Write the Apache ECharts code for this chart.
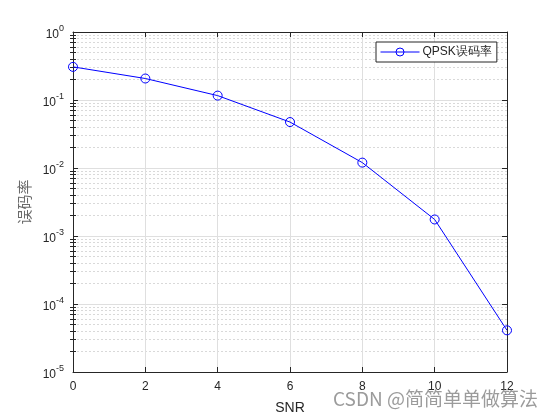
<!DOCTYPE html>
<html>
<head>
<meta charset="utf-8">
<script src="https://cdn.jsdelivr.net/npm/echarts@6/dist/echarts.min.js"></script>
<style>html,body{margin:0;padding:0;background:#fff}#c{width:560px;height:420px}</style>
</head>
<body>
<div id="c"></div>
<script>
var snr = [0, 2, 4, 6, 8, 10, 12];
var ser = [0.307, 0.207, 0.116, 0.0474, 0.012, 0.00175, 4.1e-5];
var seriesName = 'QPSK误码率';
var xTicks = [0, 2, 4, 6, 8, 10, 12];
var yDecades = [-5, -4, -3, -2, -1, 0];

// minor tick positions (log10 of 2..9 x 10^d) for a helper linear axis in log space
var minorLog = [];
for (var d = -5; d < 0; d++) {
  for (var m = 2; m <= 9; m++) minorLog.push(d + Math.log(m) / Math.LN10);
}

var chart = echarts.init(document.getElementById('c'));
var font = 'Liberation Sans, Arial, Helvetica, sans-serif';
var ink = '#262626';

var option = {
  animation: false,
  backgroundColor: '#ffffff',
  grid: { left: 73, right: 53, top: 32, bottom: 47, containLabel: false },
  legend: {
    left: 376, top: 42,
    padding: [4, 5, 4, 4],
    itemWidth: 39, itemHeight: 10, itemGap: 4,
    borderColor: ink, borderWidth: 1, backgroundColor: '#fff',
    lineStyle: { width: 1, color: '#0000ff' },
    itemStyle: { color: 'rgba(255,255,255,0)', borderColor: '#0000ff', borderWidth: 1 },
    textStyle: { fontFamily: font, fontSize: 12, color: ink, padding: [0, 0, 0, -2] },
    data: [seriesName]
  },
  xAxis: [{
    type: 'value', min: 0, max: 12, interval: 2, position: 'bottom',
    name: 'SNR', nameLocation: 'middle', nameGap: 29,
    nameTextStyle: { fontFamily: font, fontSize: 14, color: ink },
    axisLine: { show: true, onZero: false, lineStyle: { color: ink, width: 1 } },
    axisTick: { show: true, inside: true, length: 5, lineStyle: { color: ink } },
    axisLabel: { fontFamily: font, fontSize: 12, color: ink, margin: 9 },
    splitLine: { show: true, lineStyle: { color: '#dfdfdf', width: 1 } }
  }, {
    type: 'value', min: 0, max: 12, interval: 2, position: 'top',
    axisLine: { show: true, onZero: false, lineStyle: { color: ink, width: 1 } },
    axisTick: { show: true, inside: true, length: 5, lineStyle: { color: ink } },
    axisLabel: { show: false }, splitLine: { show: false }
  }],
  yAxis: [
    {
      type: 'log', logBase: 10, min: 1e-5, max: 1, position: 'left',
      name: '误码率', nameLocation: 'middle', nameGap: 34, nameRotate: 90,
      nameTextStyle: { fontFamily: 'Noto Sans CJK SC', fontSize: 15, color: '#6a6a6a' },
      axisLine: { show: true, onZero: false, lineStyle: { color: ink, width: 1 } },
      axisTick: { show: true, inside: true, length: 5, lineStyle: { color: ink } },
      axisLabel: {
        show: true, margin: 9,
        formatter: function (v) {
          var e = Math.round(Math.log(v) / Math.LN10);
          return '{b|10}{s|' + e + '}';
        },
        rich: {
          b: { fontFamily: font, fontSize: 12, color: ink, padding: [6, 0, 0, 0] },
          s: { fontFamily: font, fontSize: 9, color: ink, padding: [0, 0, 6, 0] }
        }
      },
      splitLine: { show: true, lineStyle: { color: '#dfdfdf', width: 1 } }
    },
    {
      type: 'log', logBase: 10, min: 1e-5, max: 1, position: 'right',
      axisLine: { show: true, onZero: false, lineStyle: { color: ink, width: 1 } },
      axisTick: { show: true, inside: true, length: 5, lineStyle: { color: ink } },
      axisLabel: { show: false }, splitLine: { show: false }
    },
    {
      type: 'value', min: yDecades[0], max: yDecades[yDecades.length - 1], position: 'left',
      axisLine: { show: false },
      axisTick: { show: true, inside: true, length: 3, customValues: minorLog, lineStyle: { color: ink } },
      axisLabel: { show: false },
      splitLine: { show: true, lineStyle: { color: '#d9d9d9', type: [2, 2], width: 1 } }
    },
    {
      type: 'value', min: yDecades[0], max: yDecades[yDecades.length - 1], position: 'right',
      axisLine: { show: false },
      axisTick: { show: true, inside: true, length: 3, customValues: minorLog, lineStyle: { color: ink } },
      axisLabel: { show: false },
      splitLine: { show: false }
    }
  ],
  series: [{
    name: seriesName,
    type: 'line',
    xAxisIndex: 0, yAxisIndex: 0,
    data: snr.map(function (x, i) { return [x, ser[i]]; }),
    symbol: 'circle', symbolSize: 9,
    lineStyle: { color: '#0000ff', width: 1 },
    itemStyle: { color: 'rgba(255,255,255,0)', borderColor: '#0000ff', borderWidth: 1 },
    z: 5
  }],
  graphic: [{
    type: 'text', left: 333, top: 389,
    style: { text: 'CSDN @简简单单做算法', fontFamily: 'Noto Sans CJK SC', fontSize: 19, fill: 'rgba(130,130,130,0.8)' },
    z: 100
  }]
};
chart.setOption(option);
</script>
</body>
</html>
